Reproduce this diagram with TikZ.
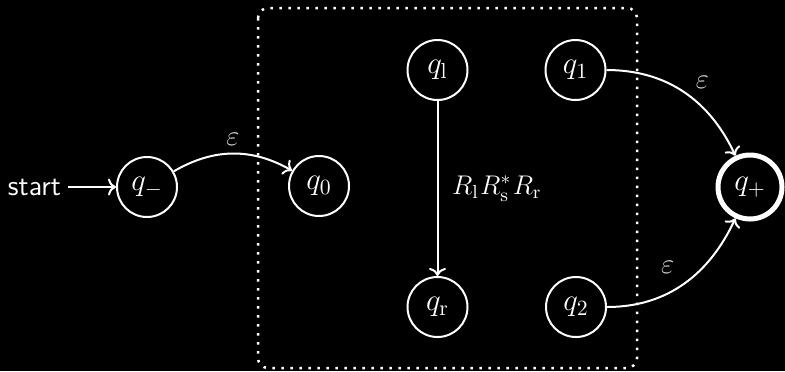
\RequirePackage{fix-cm}
\documentclass[tikz,border=0pt]{standalone}
\usetikzlibrary{arrows.meta}
\begin{document}
\begin{tikzpicture}[x=0.5pt,y=-0.5pt,
  font=\fontsize{14.3}{17}\selectfont,
  every node/.style={text=white},
  state/.style={circle,draw=white,line width=1pt,minimum size=30pt,inner sep=0pt,
    font=\fontsize{15.5}{18}\selectfont},
  final/.style={state,line width=2.5pt,minimum size=32pt},
  trans/.style={draw=white,line width=1pt,-{To[length=4pt,width=8.5pt]}},
  eps/.style={text=white!85!black}]
  % canvas
  \fill[black] (0,0) rectangle (785,371);
  \useasboundingbox (0,0) rectangle (785,371);
  % dotted frame around the inner automaton
  \draw[white,line width=1.25pt,dash pattern=on 1.25pt off 3.25pt,rounded corners=5pt]
    (258,8) rectangle (637,368);
  % states
  \node[state] (qm) at (147,187) {$q_{-}$};
  \node[state] (q0) at (319,186) {$q_0$};
  \node[state] (ql) at (437.5,70) {$q_{\mathrm{l}}$};
  \node[state] (qr) at (437.5,307) {$q_{\mathrm{r}}$};
  \node[state] (q1) at (575.5,70) {$q_1$};
  \node[state] (q2) at (576,307) {$q_2$};
  \node[final] (qp) at (750,187) {$q_{+}$};
  \node[font=\sffamily\fontsize{14.3}{17}\selectfont] (start) at (34.5,187) {start};
  % transitions
  \draw[trans] (start) -- (qm);
  \draw[trans] (qm) to[bend left=30] node[above,eps] {$\varepsilon$} (q0);
  \draw[trans] (ql) -- node[right=3.5pt,font=\fontsize{13.5}{16}\selectfont]
    {$R_{\mathrm{l}}\mskip1mu R^{*}_{\mathrm{s}}\mskip1mu R_{\mathrm{r}}$} (qr);
  \draw[trans] (q1) to[out=0,in=115] node[pos=0.5,above right,eps,xshift=2pt,yshift=-2pt] {$\varepsilon$} (qp);
  \draw[trans] (q2) to[out=0,in=245] node[pos=0.45,above left,eps,xshift=2pt,yshift=3.5pt] {$\varepsilon$} (qp);
\end{tikzpicture}
\end{document}
